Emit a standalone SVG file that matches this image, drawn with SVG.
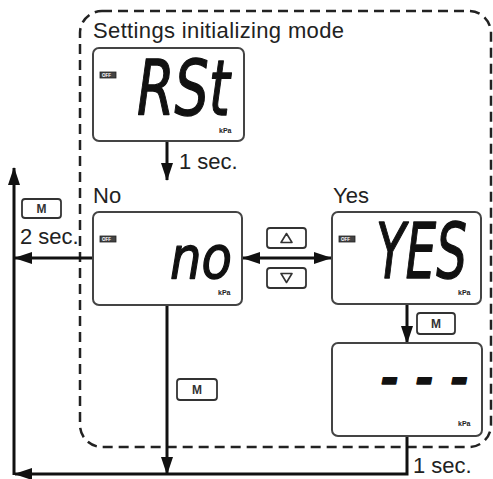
<svg xmlns="http://www.w3.org/2000/svg" width="493" height="479" viewBox="0 0 493 479">
<defs>
<style>
.lbl{font-family:"Liberation Sans",Arial,sans-serif;font-size:22px;fill:#222}
.box{fill:#fff;stroke:#444;stroke-width:2}
.btn{fill:#fff;stroke:#333;stroke-width:1.8}
.btxt{font-family:"Liberation Sans",Arial,sans-serif;font-size:12px;font-weight:bold;fill:#333;text-anchor:middle}
.tri{fill:none;stroke:#333;stroke-width:1.6;stroke-linejoin:round}
.seg{font-family:"DejaVu Sans",sans-serif;font-style:oblique;fill:#111;stroke:#111;stroke-width:1.3;stroke-linejoin:round}
.kpa{font-family:"Liberation Sans",Arial,sans-serif;font-size:7px;font-weight:bold;fill:#222}
.tag{fill:#444;stroke:#222;stroke-width:0.8}
.tagt{font-family:"Liberation Sans",Arial,sans-serif;font-size:4.5px;font-weight:bold;fill:#fff}
.con{fill:none;stroke:#111;stroke-width:3}
</style>
<marker id="ah" viewBox="0 0 18 12" refX="17" refY="6" markerWidth="18" markerHeight="12" markerUnits="userSpaceOnUse" orient="auto-start-reverse">
<path d="M0,0 L18,6 L0,12 z" fill="#111"/>
</marker>
</defs>
<rect width="493" height="479" fill="#fff"/>

<g id="mode-frame">
<rect x="80" y="11" width="411" height="436" rx="22" fill="none" stroke="#222" stroke-width="2.5" stroke-dasharray="10 6"/>
<text class="lbl" x="93" y="38" textLength="251">Settings initializing mode</text>
</g>

<g id="connectors">
<line class="con" x1="167" y1="141" x2="167" y2="180" marker-end="url(#ah)"/>
<line class="con" x1="93" y1="258" x2="15" y2="258" marker-end="url(#ah)"/>
<line class="con" x1="14" y1="475" x2="14" y2="168" marker-end="url(#ah)"/>
<polyline class="con" points="407,436 407,474 15,474" marker-end="url(#ah)"/>
<line class="con" x1="167" y1="305" x2="167" y2="474" marker-end="url(#ah)"/>
<line class="con" x1="243" y1="258" x2="331" y2="258" marker-start="url(#ah)" marker-end="url(#ah)"/>
<line class="con" x1="407" y1="304" x2="407" y2="343" marker-end="url(#ah)"/>
<text class="lbl" x="179" y="169">1 sec.</text>
<text class="lbl" x="20" y="244">2 sec.</text>
<text class="lbl" x="413" y="473">1 sec.</text>
</g>

<g id="node-rst">
<rect class="box" x="93" y="48" width="151" height="93" rx="6"/>
<rect class="tag" x="100" y="72" width="16" height="6"/>
<text class="tagt" x="102" y="76.8">OFF</text>
<text class="seg" x="137" y="115" font-size="76" textLength="93" lengthAdjust="spacingAndGlyphs">RSt</text>
<text class="kpa" x="219" y="133">kPa</text>
</g>

<g id="node-no">
<text class="lbl" x="93" y="203">No</text>
<rect class="box" x="93" y="212" width="149" height="93" rx="6"/>
<rect class="tag" x="100" y="236" width="16" height="6"/>
<text class="tagt" x="102" y="240.8">OFF</text>
<text class="seg" x="170" y="278" font-size="58" textLength="62" lengthAdjust="spacingAndGlyphs">no</text>
<text class="kpa" x="218" y="295">kPa</text>
</g>

<g id="node-yes">
<text class="lbl" x="333" y="203">Yes</text>
<rect class="box" x="332" y="212" width="149" height="92" rx="6"/>
<rect class="tag" x="339" y="236" width="16" height="6"/>
<text class="tagt" x="341" y="240.8">OFF</text>
<text class="seg" x="376" y="278" font-size="76" textLength="91" lengthAdjust="spacingAndGlyphs">YES</text>
<text class="kpa" x="458" y="295">kPa</text>
</g>

<g id="node-dashes">
<rect class="box" x="332" y="343" width="150" height="93" rx="6"/>
<text class="seg" x="381" y="394" font-size="44" font-weight="bold" stroke-width="0" textLength="88" lengthAdjust="spacing">---</text>
<text class="kpa" x="458" y="426">kPa</text>
</g>

<g id="btn-m-left">
<rect class="btn" x="22" y="199" width="39" height="19" rx="3"/>
<text class="btxt" x="41.5" y="213">M</text>
</g>
<g id="btn-up">
<rect class="btn" x="267" y="228" width="39" height="20" rx="3"/>
<polygon class="tri" points="281,242.5 292,242.5 286.5,233.5"/>
</g>
<g id="btn-down">
<rect class="btn" x="267" y="268" width="39" height="20" rx="3"/>
<polygon class="tri" points="281,273.5 292,273.5 286.5,282.5"/>
</g>
<g id="btn-m-yes">
<rect class="btn" x="417" y="313" width="38" height="21" rx="3"/>
<text class="btxt" x="436" y="328">M</text>
</g>
<g id="btn-m-no">
<rect class="btn" x="177" y="379" width="40" height="21" rx="3"/>
<text class="btxt" x="197" y="394">M</text>
</g>
</svg>
